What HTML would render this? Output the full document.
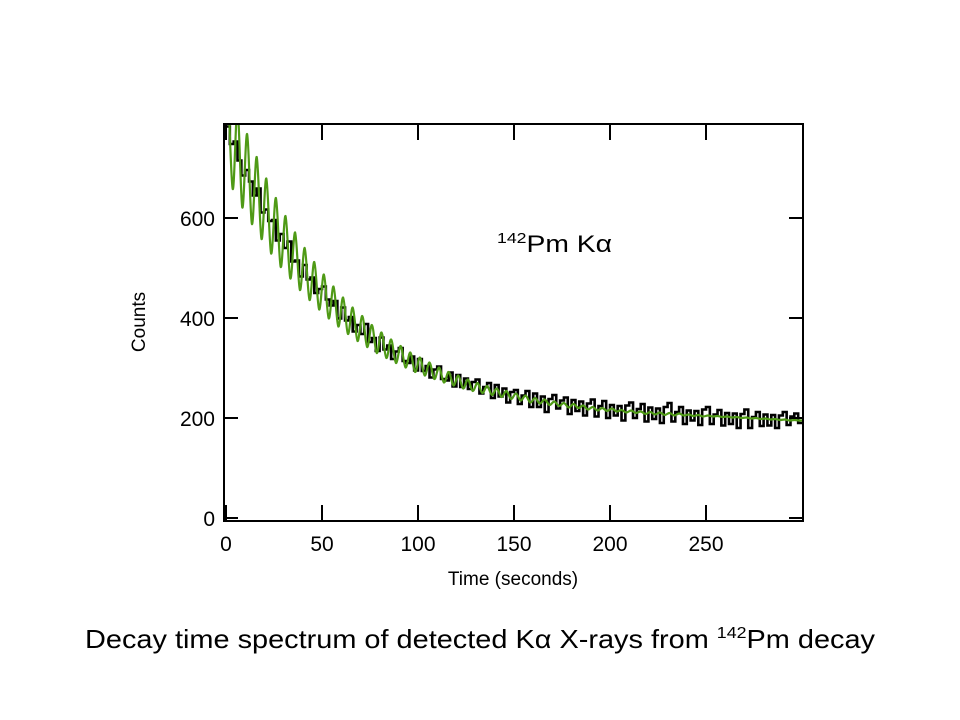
<!DOCTYPE html>
<html><head><meta charset="utf-8"><style>
html,body{margin:0;padding:0;background:#fff;}
svg{display:block;font-family:"Liberation Sans",sans-serif;}
</style></head><body>
<svg id="chart" width="960" height="720" viewBox="0 0 960 720" xmlns="http://www.w3.org/2000/svg">
<defs><clipPath id="plotclip"><rect x="224" y="125" width="578" height="395"/></clipPath></defs>
<g id="marks" clip-path="url(#plotclip)"></g>
<rect x="224" y="124" width="579" height="397" fill="none" stroke="#000" stroke-width="2"/>
<g id="axes"></g>
<text x="0" y="0" font-size="19" text-anchor="middle" transform="translate(145,322) rotate(-90)">Counts</text>
<text x="513" y="585" font-size="19" text-anchor="middle">Time (seconds)</text>
<text x="497" y="252" font-size="24" textLength="115" lengthAdjust="spacingAndGlyphs"><tspan font-size="15" dy="-9">142</tspan><tspan dy="9">Pm Kα</tspan></text>
<text x="85" y="648" font-size="26" textLength="790" lengthAdjust="spacingAndGlyphs">Decay time spectrum of detected Kα X-rays from <tspan font-size="16" dy="-10">142</tspan><tspan dy="10">Pm decay</tspan></text>
</svg>
<script>
const xTicks = [0, 50, 100, 150, 200, 250];
const yTicks = [0, 200, 400, 600];
const binWidth = 2;
const dataCounts = [783,748,753,715,685,696,673,645,659,611,617,594,596,555,568,540,553,513,515,483,506,477,481,450,458,463,437,425,434,399,421,395,402,373,386,368,388,352,360,334,361,337,345,318,333,340,314,310,323,295,318,294,304,281,297,303,278,275,291,263,286,262,279,258,272,277,249,262,270,240,266,243,259,231,252,256,228,245,254,222,249,222,243,212,238,246,219,235,241,208,236,214,233,205,229,237,203,224,234,200,226,205,224,195,225,231,200,218,228,193,221,198,219,190,222,230,193,212,222,188,215,195,214,186,217,222,188,207,216,185,210,188,209,180,208,217,180,202,212,184,207,185,206,180,205,212,186,203,209,190];
const fitStart = 1;
const fitStep = 2.5;
const fitCounts = [873,658,819,621,768,588,722,558,679,529,640,502,604,479,571,456,540,436,512,417,487,399,463,383,441,368,421,354,404,342,386,330,371,320,357,310,344,301,331,292,321,285,311,278,301,271,292,265,285,259,277,254,270,250,264,246,259,242,254,238,249,235,245,231,240,229,237,226,233,224,230,221,228,220,225,217,222,215,220,214,219,213,216,211,215,210,213,208,212,207,211,206,210,205,209,205,207,204,206,203,205,203,204,202,203,201,202,200,201,199,200,198,199,197,198,196,197,195,196,195];

const X0 = 226, PXS = 1.92, Y0 = 518, PYC = 0.5;
const xs = t => X0 + t * PXS;
const ys = c => Y0 - c * PYC;
const NS = 'http://www.w3.org/2000/svg';
const marks = document.getElementById('marks');
const axes = document.getElementById('axes');

let d = '';
dataCounts.forEach((c, i) => {
  const xa = xs(i * binWidth), xb = xs((i + 1) * binWidth), y = ys(c);
  d += (i === 0 ? 'M' + xa + ',' + y : 'L' + xa + ',' + y) + 'L' + xb + ',' + y;
});
const dataPath = document.createElementNS(NS, 'path');
dataPath.setAttribute('d', d);
dataPath.setAttribute('fill', 'none');
dataPath.setAttribute('stroke', '#000');
dataPath.setAttribute('stroke-width', '2.6');


marks.appendChild(dataPath);

const pts = fitCounts.map((c, i) => [xs(fitStart + i * fitStep), ys(c)]);
let g = 'M' + pts[0][0] + ',' + pts[0][1];
for (let i = 0; i < pts.length - 1; i++) {
  const p0 = pts[Math.max(0, i - 1)], p1 = pts[i], p2 = pts[i + 1], p3 = pts[Math.min(pts.length - 1, i + 2)];
  const c1x = p1[0] + (p2[0] - p0[0]) / 6, c1y = p1[1] + (p2[1] - p0[1]) / 6;
  const c2x = p2[0] - (p3[0] - p1[0]) / 6, c2y = p2[1] - (p3[1] - p1[1]) / 6;
  g += 'C' + c1x + ',' + c1y + ' ' + c2x + ',' + c2y + ' ' + p2[0] + ',' + p2[1];
}
g += 'L' + xs(300) + ',' + pts[pts.length - 1][1];
const fitPath = document.createElementNS(NS, 'path');
fitPath.setAttribute('d', g);
fitPath.setAttribute('fill', 'none');
fitPath.setAttribute('stroke', '#4f9a16');
fitPath.setAttribute('stroke-width', '2.2');


marks.appendChild(fitPath);

function line(x1, y1, x2, y2, name) {
  const l = document.createElementNS(NS, 'line');
  l.setAttribute('x1', x1); l.setAttribute('y1', y1);
  l.setAttribute('x2', x2); l.setAttribute('y2', y2);
  l.setAttribute('stroke', '#000'); l.setAttribute('stroke-width', '2');
  
  
  axes.appendChild(l);
}
function text(x, y, s, anchor, name) {
  const t = document.createElementNS(NS, 'text');
  t.setAttribute('x', x); t.setAttribute('y', y);
  t.setAttribute('font-size', '21');
  t.setAttribute('text-anchor', anchor);
  t.textContent = s;
  
  
  axes.appendChild(t);
}
xTicks.forEach(v => {
  const x = xs(v);
  line(x, 521, x, 505, 'x-tick');
  line(x, 124, x, 140, 'x-tick-top');
  text(x, 551, String(v), 'middle', 'x-tick-label');
});
yTicks.forEach(v => {
  const y = ys(v);
  line(224, y, 238, y, 'y-tick');
  line(803, y, 789, y, 'y-tick-right');
  text(215, y + 8, String(v), 'end', 'y-tick-label');
});
</script>
</body></html>
